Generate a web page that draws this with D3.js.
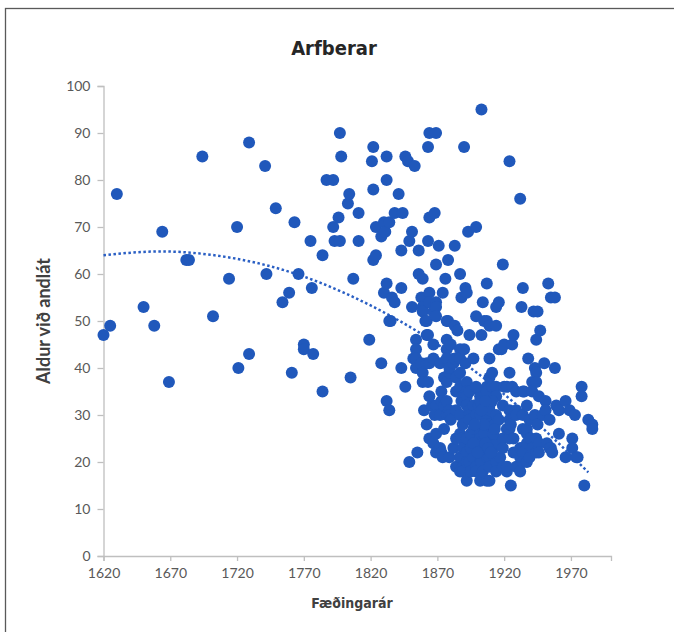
<!DOCTYPE html>
<html>
<head>
<meta charset="utf-8">
<script src="https://cdn.jsdelivr.net/npm/d3@7"></script>
<style>
  body { margin: 0; background: #fff; }
</style>
</head>
<body>
<div id="svgcontainer"></div>
<script>
// birth year / age at death
var birthYears = [
  1620,1625,1630,1650,1658,1664,1669,1682,1684,1694,1702,1714,1720,1721,1729,1729,1741,1742,1749,1754,
  1759,1761,1763,1766,1770,1770,1775,1776,1777,1784,1784,1787,1792,1792,1793,1796,1797,1797,1798,1803,
  1804,1805,1807,1811,1811,1819,1821,1822,1822,1822,1824,1824,1828,1828,1830,1830,1831,1832,1832,1832,
  1832,1834,1834,1834,1835,1836,1838,1838,1841,1843,1843,1844,1843,1846,1846,1848,1849,1849,1851,1851,
  1852,1853,1854,1854,1854,1854,1855,1856,1856,1858,1858,1859,1859,1859,1859,1859,1860,1861,1862,1862,
  1862,1862,1863,1863,1863,1863,1864,1864,1864,1864,1864,1864,1864,1866,1867,1867,1867,1867,1868,1869,
  1869,1869,1869,1869,1869,1869,1868,1869,1871,1872,1872,1872,1873,1873,1873,1874,1874,1875,1875,1875,
  1876,1877,1877,1877,1877,1877,1877,1877,1878,1878,1879,1879,1879,1879,1879,1880,1880,1882,1882,1883,
  1883,1883,1884,1884,1884,1884,1884,1885,1887,1887,1887,1887,1887,1887,1887,1887,1887,1888,1888,1888,
  1889,1889,1889,1889,1889,1890,1890,1891,1891,1892,1892,1892,1892,1892,1892,1892,1892,1892,1893,1894,
  1894,1894,1894,1894,1894,1895,1895,1897,1897,1897,1897,1899,1899,1899,1899,1899,1899,1901,1902,1902,
  1902,1902,1902,1902,1902,1902,1902,1902,1903,1903,1903,1904,1904,1904,1905,1907,1907,1907,1907,1907,
  1907,1907,1909,1909,1909,1909,1909,1909,1909,1909,1909,1909,1909,1911,1911,1911,1912,1913,1914,1914,
  1914,1914,1914,1914,1914,1914,1916,1916,1916,1917,1918,1919,1919,1919,1919,1919,1920,1920,1922,1922,
  1922,1922,1924,1924,1924,1924,1924,1924,1925,1925,1926,1926,1927,1927,1927,1929,1929,1929,1929,1929,
  1932,1932,1932,1932,1933,1934,1934,1934,1934,1934,1934,1935,1937,1937,1937,1937,1937,1938,1939,1939,
  1939,1940,1941,1941,1941,1942,1943,1943,1944,1944,1944,1944,1944,1945,1945,1946,1946,1946,1947,1949,
  1950,1951,1951,1952,1953,1954,1954,1955,1955,1956,1958,1958,1959,1961,1961,1966,1966,1969,1971,1971,
  1973,1974,1975,1978,1978,1980,1983,1986,1986,
  1895,1897,1900,1905,1906,1908,1910,1912,1905,1898,1903,1911,1906,1899,1913
];
var agesAtDeath = [
  47,49,77,53,49,69,37,63,63,85,51,59,70,40,88,43,83,60,74,54,
  56,39,71,60,45,44,67,57,43,64,35,80,80,70,67,72,90,67,85,75,
  77,38,59,73,67,46,84,87,78,63,70,64,68,41,56,71,69,85,80,58,
  33,50,31,71,50,55,73,54,77,57,65,73,40,85,36,84,67,20,69,53,
  42,83,46,44,42,40,22,65,60,55,41,59,53,52,39,37,31,50,50,41,
  47,28,87,67,47,37,90,72,56,54,41,34,25,32,45,42,24,52,73,90,
  62,54,53,51,26,32,30,22,66,41,30,23,35,33,22,56,21,38,32,27,
  59,50,46,44,42,37,33,30,63,50,39,40,31,30,21,45,29,41,23,66,
  49,42,35,38,31,25,19,48,60,44,42,39,36,30,26,21,18,55,33,25,
  34,28,23,19,18,87,44,57,41,56,37,35,34,32,25,22,20,16,69,47,
  35,31,30,29,20,26,18,42,27,32,21,70,51,24,30,19,18,32,35,34,
  33,30,27,26,25,24,21,16,95,20,47,54,23,18,50,58,50,36,35,29,
  21,16,49,42,38,32,31,28,27,25,21,19,16,39,36,25,23,28,53,49,
  36,34,30,24,20,18,54,44,29,21,44,62,32,25,23,19,45,36,36,27,
  18,19,84,39,31,29,25,27,28,15,45,36,47,25,22,35,31,30,22,19,
  76,21,18,23,53,57,35,30,27,22,20,35,26,32,27,24,20,42,29,25,
  21,25,37,35,23,52,40,30,46,39,37,25,22,52,28,34,24,22,48,30,
  41,33,31,24,58,29,23,55,23,22,55,40,32,26,31,33,21,31,25,23,
  30,21,21,36,34,15,29,28,27,
  23,24,22,26,24,23,22,26,28,28,31,33,33,36,27
];

// dotted polynomial trend line
var trendYears = [1620, 1660, 1700, 1740, 1780, 1820, 1860, 1900, 1940, 1983];
var trendAges = [64.0, 64.8, 64.1, 62.0, 58.4, 53.3, 46.9, 38.9, 29.5, 17.8];

var xTicks = [1620, 1670, 1720, 1770, 1820, 1870, 1920, 1970];
var yTicks = [0, 10, 20, 30, 40, 50, 60, 70, 80, 90, 100];

var svgWidth = 674;
var svgHeight = 632;

var margin = { top: 86, right: 63, bottom: 76, left: 103.5 };
var width = svgWidth - margin.left - margin.right;
var height = svgHeight - margin.top - margin.bottom;

var svg = d3.select("#svgcontainer")
  .append("svg")
  .attr("width", svgWidth)
  .attr("height", svgHeight);

// outer frame (runs off the right and bottom of the picture)
svg.append("rect")
  .attr("x", 5.5)
  .attr("y", 8.5)
  .attr("width", svgWidth + 10)
  .attr("height", svgHeight + 10)
  .attr("fill", "none")
  .attr("stroke", "#595959")
  .attr("stroke-width", 1.3);

var chartGroup = svg.append("g")
  .attr("transform", `translate(${margin.left}, ${margin.top})`);

var xScale = d3.scaleLinear()
  .domain([1620, 2000])
  .range([0, width]);

var yScale = d3.scaleLinear()
  .domain([0, 100])
  .range([height, 0]);

var bottomAxis = d3.axisBottom(xScale)
  .tickValues(xTicks)
  .tickFormat(d3.format("d"))
  .tickSizeOuter(0)
  .tickSize(5)
  .tickPadding(7);

var leftAxis = d3.axisLeft(yScale)
  .tickValues(yTicks)
  .tickSizeOuter(0)
  .tickSize(6)
  .tickPadding(7);

var xAxisG = chartGroup.append("g")
  .attr("transform", `translate(0, ${height})`)
  .call(bottomAxis);

var yAxisG = chartGroup.append("g")
  .call(leftAxis);

[xAxisG, yAxisG].forEach(function (g) {
  g.select(".domain").attr("stroke", "#bfbfbf").attr("stroke-width", 1.3);
  g.selectAll(".tick line").attr("stroke", "#bfbfbf").attr("stroke-width", 1.3);
  g.selectAll(".tick text")
    .attr("fill", "#595959")
    .attr("font-family", "Lato, sans-serif")
    .attr("font-size", 14);
});

// trend line
var trendLine = d3.line()
  .x((d, i) => xScale(trendYears[i]))
  .y(d => yScale(d))
  .curve(d3.curveNatural);

chartGroup.append("path")
  .datum(trendAges)
  .attr("d", trendLine)
  .attr("fill", "none")
  .attr("stroke", "#2a5fc4")
  .attr("stroke-width", 2.5)
  .attr("stroke-dasharray", "2.5,2.5");

// points
chartGroup.selectAll("circle")
  .data(birthYears)
  .enter()
  .append("circle")
  .attr("cx", d => xScale(d))
  .attr("cy", (d, i) => yScale(agesAtDeath[i]))
  .attr("r", 6)
  .attr("fill", "#2058bb");

// titles
svg.append("text")
  .attr("x", 334)
  .attr("y", 55)
  .attr("text-anchor", "middle")
  .attr("font-family", "'DejaVu Sans Condensed', 'DejaVu Sans', sans-serif")
  .attr("font-weight", "bold")
  .attr("font-size", 20)
  .attr("fill", "#262626")
  .text("Arfberar");

svg.append("text")
  .attr("x", 352)
  .attr("y", 608)
  .attr("text-anchor", "middle")
  .attr("font-family", "'DejaVu Sans Condensed', 'DejaVu Sans', sans-serif")
  .attr("font-weight", "bold")
  .attr("font-size", 14)
  .attr("fill", "#404040")
  .text("Fæðingarár");

svg.append("text")
  .attr("transform", "translate(50, 321) rotate(-90)")
  .attr("text-anchor", "middle")
  .attr("font-family", "Lato, sans-serif")
  .attr("font-weight", "bold")
  .attr("font-size", 18)
  .attr("fill", "#404040")
  .text("Aldur við andlát");
</script>
</body>
</html>
